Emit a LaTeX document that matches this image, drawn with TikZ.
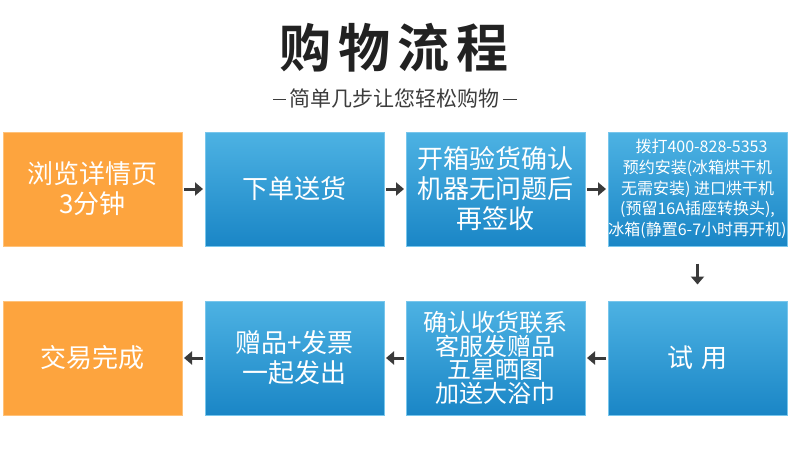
\documentclass[tikz,border=0pt]{standalone}
\usepackage{fontspec}
\setmainfont{Noto Sans CJK SC}[BoldFont={Noto Sans CJK SC Bold}]
\usetikzlibrary{arrows.meta}
\definecolor{org}{HTML}{FDA43E}
\definecolor{orgedge}{HTML}{FFC27A}
\definecolor{bluetop}{HTML}{4DB2E3}
\definecolor{bluebot}{HTML}{1A86C6}
\definecolor{blueedge}{HTML}{78C6EC}
\definecolor{arrgray}{HTML}{3A3A3A}
\definecolor{titlegray}{HTML}{222222}
\definecolor{subgray}{HTML}{3C3C3C}
\tikzset{
  stepbox/.style={minimum width=179pt, minimum height=114pt, inner sep=0pt,
    text=white, align=center, anchor=north west, line width=1pt},
  orangebox/.style={stepbox, fill=org, draw=orgedge},
  bluebox/.style={stepbox, top color=bluetop, bottom color=bluebot, draw=blueedge},
  bigtext/.style={font=\fontsize{26}{30}\selectfont},
  arr/.style={draw=arrgray, line width=3pt, -{Triangle[length=8pt,width=13pt]}},
}
\begin{document}
\begin{tikzpicture}[x=1pt,y=-1pt]
\useasboundingbox (0,0) rectangle (790,451);
% title
\node[text=titlegray, font=\fontsize{52}{56}\selectfont\bfseries] (title) at (394,48)
  {购\hspace{7pt}物\hspace{7pt}流\hspace{7pt}程};
\node[text=subgray, font=\fontsize{21}{24}\selectfont] (sub) at (394,99) {简单几步让您轻松购物};
\coordinate (dl1) at (273,99); \coordinate (dl2) at (286,99);
\coordinate (dr1) at (503,99); \coordinate (dr2) at (517,99);
\draw[subgray, line width=1pt] (dl1) -- (dl2);
\draw[subgray, line width=1pt] (dr1) -- (dr2);
% row 1
\node[orangebox, bigtext] (b1) at (2.5,131.5) {浏览详情页\\3分钟};
\node[bluebox, bigtext] (b2) at (204.5,131.5) {下单送货};
\node[bluebox, bigtext] (b3) at (405.5,131.5) {开箱验货确认\\机器无问题后\\再签收};
\node[bluebox, font=\fontsize{16}{20.7}\selectfont] (b4) at (607.5,131.5)
  {\hspace{8pt}拨打400-828-5353\\预约安装(冰箱烘干机\\无需安装) 进口烘干机\\(预留16A插座转换头),\\冰箱(静置6-7小时再开机)};
% row 2
\node[bluebox, bigtext] (b5) at (607.5,300.5) {试\hspace{0.3em}用};
\node[bluebox, font=\fontsize{24}{23.5}\selectfont] (b8) at (405.5,300.5)
  {确认收货联系\\客服发赠品\\五星晒图\\加送大浴巾};
\node[bluebox, bigtext] (b6) at (204.5,300.5) {赠品+发票\\一起发出};
\node[orangebox, bigtext] (b7) at (2.5,300.5) {交易完成};
% arrows
\draw[arr, shorten <=1.5pt, shorten >=1.5pt] (b1.east) -- (b2.west);
\draw[arr, shorten <=1.5pt, shorten >=1.5pt] (b2.east) -- (b3.west);
\draw[arr, shorten <=1.5pt, shorten >=1.5pt] (b3.east) -- (b4.west);
\draw[arr, shorten <=17pt, shorten >=16pt] (b4.south) -- (b5.north);
\draw[arr, shorten <=1.5pt, shorten >=1.5pt] (b5.west) -- (b8.east);
\draw[arr, shorten <=1.5pt, shorten >=1.5pt] (b8.west) -- (b6.east);
\draw[arr, shorten <=1.5pt, shorten >=1.5pt] (b6.west) -- (b7.east);
\end{tikzpicture}
\end{document}
